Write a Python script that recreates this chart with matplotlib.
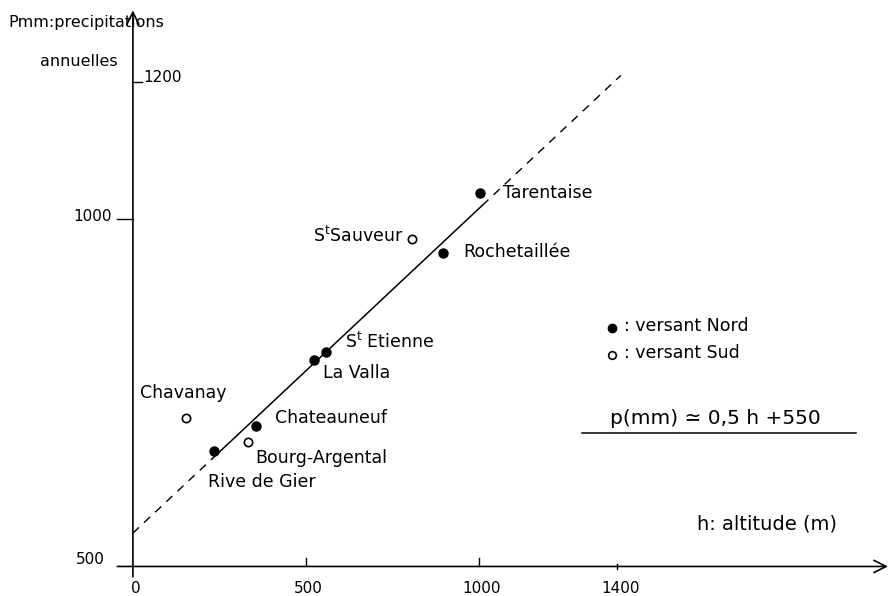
import matplotlib
matplotlib.use("Agg")
import matplotlib.pyplot as plt

# ---- data ----
stations = ["Tarentaise", "Rochetaillée", "S$^{\\mathrm{t}}$Sauveur", "S$^{\\mathrm{t}}$ Etienne",
            "La Valla", "Chateauneuf", "Bourg-Argental", "Rive de Gier", "Chavanay"]
altitude_m = [1003, 896, 806, 558, 523, 355, 332, 234, 153]
precip_mm = [1037, 951, 971, 809, 797, 702, 679, 666, 714]
versant = ["Nord", "Nord", "Sud", "Nord", "Nord", "Nord", "Sud", "Nord", "Sud"]

# drawn regression line (as traced on the figure)
fit_slope = 0.467
fit_intercept = 548
fit_dashed_low = [0, 230]
fit_solid = [230, 1010]
fit_dashed_high = [1010, 1410]

x_ticks = [0, 500, 1000, 1400]
x_tick_labels = ["0", "500", "1000", "1400"]
y_ticks = [500, 1000, 1200]
y_tick_labels = ["500", "1000", "1200"]

W, H = 889, 596
plt.rcParams["font.family"] = ["DejaVu Sans"]
plt.rcParams["mathtext.fontset"] = "dejavusans"
fig = plt.figure(figsize=(W / 100, H / 100), dpi=100)
ax = fig.add_axes([0, 0, 1, 1])
ax.set_xlim(-384, 2185)
ax.set_ylim(457.5, 1315)
ax.axis("off")


def fx(px):
    return px / W


def fy(py):
    return 1 - py / H


# axes with arrows
ax.annotate("", xy=(2182, 500), xytext=(-45, 500),
            arrowprops=dict(arrowstyle="->", lw=1.2, color="black", mutation_scale=22,
                            shrinkA=0, shrinkB=0))
ax.annotate("", xy=(0, 1300), xytext=(0, 485),
            arrowprops=dict(arrowstyle="->", lw=1.2, color="black", mutation_scale=22,
                            shrinkA=0, shrinkB=0))

# ticks
for xt in x_ticks:
    if xt == 0:
        continue
    lo, hi = (500, 512) if xt != 1400 else (496, 504)
    ax.plot([xt, xt], [lo, hi], color="black", lw=1.0)
ax.plot([-45, 0], [y_ticks[1], y_ticks[1]], color="black", lw=1.0)
ax.plot([3, 25], [y_ticks[2] - 3, y_ticks[2] - 3], color="black", lw=1.0)

for xt, lab in zip(x_ticks, x_tick_labels):
    ax.text(xt + 8, 469, lab, ha="center", va="center", fontsize=11)
ax.text(-80, y_ticks[0] + 10, y_tick_labels[0], ha="right", va="center", fontsize=11)
ax.text(-62, y_ticks[1] + 4, y_tick_labels[1], ha="right", va="center", fontsize=11)
ax.text(30, y_ticks[2] + 4, y_tick_labels[2], ha="left", va="center", fontsize=11)


# fitted line
def line_p(hs):
    return [fit_slope * h + fit_intercept for h in hs]


ax.plot(fit_dashed_low, line_p(fit_dashed_low), color="black", lw=1.0, ls=(0, (6, 5)))
ax.plot(fit_solid, line_p(fit_solid), color="black", lw=1.1)
ax.plot(fit_dashed_high, line_p(fit_dashed_high), color="black", lw=1.0, ls=(0, (6, 5)))

# points
for h, p, v in zip(altitude_m, precip_mm, versant):
    if v == "Nord":
        ax.plot(h, p, "o", color="black", ms=6.5, zorder=3)
    else:
        ax.plot(h, p, "o", mfc="white", mec="black", mew=1.2, ms=6, zorder=3)

# station label placement: (offset px x, offset px y, ha)
offsets = [
    (23, 0, "left"),
    (20, 1, "left"),
    (-8, 3, "right"),
    (19, 10, "left"),
    (9, -13, "left"),
    (19, 8, "left"),
    (7, -16, "left"),
    (-6, -31, "left"),
    (-46, 25, "left"),
]
for name, h, p, (dx, dy, ha) in zip(stations, altitude_m, precip_mm, offsets):
    ax.annotate(name, xy=(h, p), xytext=(dx, dy), textcoords="offset pixels",
                ha=ha, va="center", fontsize=12.5)

# axis titles
ax.text(fx(8), fy(22), "Pmm:precipitations", transform=ax.transAxes,
        ha="left", va="center", fontsize=11.5)
ax.text(fx(40), fy(62), "annuelles", transform=ax.transAxes,
        ha="left", va="center", fontsize=11.5)
ax.text(fx(697), fy(524), "h: altitude (m)", transform=ax.transAxes,
        ha="left", va="center", fontsize=14)

# legend
ax.plot([fx(612)], [fy(328)], "o", color="black", ms=6, transform=ax.transAxes)
ax.plot([fx(612)], [fy(355)], "o", mfc="white", mec="black", mew=1.2, ms=5.5,
        transform=ax.transAxes)
ax.text(fx(624), fy(326), ": versant Nord", transform=ax.transAxes,
        ha="left", va="center", fontsize=12.5)
ax.text(fx(624), fy(353), ": versant Sud", transform=ax.transAxes,
        ha="left", va="center", fontsize=12.5)

# formula
ax.text(fx(610), fy(418), "p(mm) \u2243 0,5 h +550", transform=ax.transAxes,
        ha="left", va="center", fontsize=14.5)
ax.plot([fx(582), fx(856)], [fy(433), fy(433)], color="black", lw=1.1,
        transform=ax.transAxes)

fig.savefig("out.png", dpi=100)
